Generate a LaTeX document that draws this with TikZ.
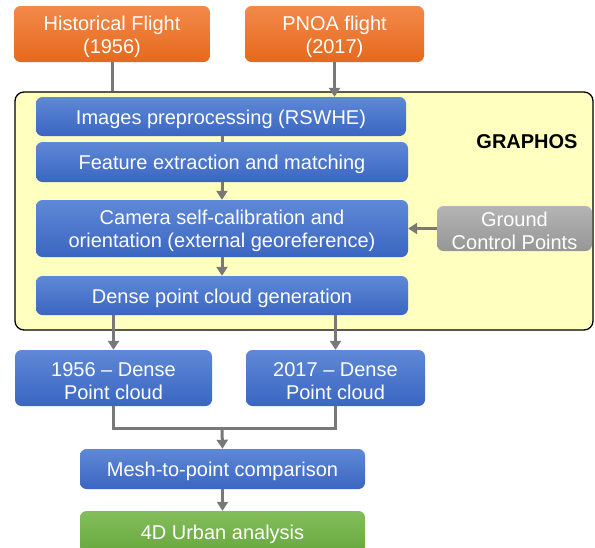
\documentclass[tikz,border=0pt]{standalone}
\usepackage{fontspec}
\setmainfont{Liberation Sans}
\usetikzlibrary{arrows.meta}
\definecolor{orTop}{HTML}{F3894A}
\definecolor{orBot}{HTML}{E5691C}
\definecolor{blTop}{HTML}{5F88D6}
\definecolor{blBot}{HTML}{3A66C2}
\definecolor{grTop}{HTML}{84BE5C}
\definecolor{grBot}{HTML}{67A73D}
\definecolor{gyTop}{HTML}{B4B4B4}
\definecolor{gyBot}{HTML}{969696}
\definecolor{panel}{HTML}{FFFFC0}
\definecolor{link}{HTML}{787878}
\tikzset{
  x=1pt, y=-1pt,
  card/.style={rounded corners=6.5pt, inner sep=0pt, align=center, text=white,
    font=\fontsize{20}{23}\selectfont},
  % zero-width struts lower the text a little inside its box
  oneline/.style={execute at begin node={\rule{0pt}{19.8pt}}},
  twoline/.style={execute at begin node={\rule{0pt}{42.6pt}}},
  orangebox/.style={card, top color=orTop, bottom color=orBot},
  bluebox/.style={card, top color=blTop, bottom color=blBot},
  greenbox/.style={card, top color=grTop, bottom color=grBot},
  graybox/.style={card, top color=gyTop, bottom color=gyBot},
  wire/.style={draw=link, line width=3pt},
  flow/.style={wire, -{Triangle[width=11pt,length=9pt]}},
}
\begin{document}
\begin{tikzpicture}
\useasboundingbox (0,0) rectangle (595,547);

% GRAPHOS processing panel
\node[draw=black, line width=1.3pt, fill=panel, rounded corners=9pt,
      minimum width=578pt, minimum height=238pt, inner sep=0pt]
      (panel) at (304,211) {};
\node[font=\fontsize{20}{24}\selectfont\bfseries] (graphos) at (527,142) {GRAPHOS};

% input flights
\node[orangebox, twoline, minimum width=196pt, minimum height=56pt] (hist) at (112,34)
  {Historical Flight\\(1956)};
\node[orangebox, twoline, minimum width=179pt, minimum height=56pt] (pnoa) at (334.5,34)
  {PNOA flight\\(2017)};

% photogrammetric steps
\node[bluebox, oneline, minimum width=370pt, minimum height=39pt] (prep) at (221,116.5)
  {Images preprocessing (RSWHE)};
\node[bluebox, oneline, minimum width=372pt, minimum height=40pt] (feat) at (222,162)
  {Feature extraction and matching};
\node[bluebox, twoline, minimum width=372pt, minimum height=57pt] (cam) at (222,228.5)
  {Camera self-calibration and\\orientation (external georeference)};
\node[bluebox, oneline, minimum width=372pt, minimum height=39pt] (dense) at (222,295.5)
  {Dense point cloud generation};
\node[graybox, twoline, minimum width=155pt, minimum height=45pt] (gcp) at (514.5,228.5)
  {Ground\\Control Points};

% outputs
\node[bluebox, twoline, minimum width=197pt, minimum height=56pt] (pc56) at (113.5,378)
  {1956 -- Dense\\Point cloud};
\node[bluebox, twoline, minimum width=179pt, minimum height=56pt] (pc17) at (335.5,378)
  {2017 -- Dense\\Point cloud};
\node[bluebox, oneline, minimum width=285pt, minimum height=40pt] (mesh) at (222.5,469)
  {Mesh-to-point comparison};
\node[greenbox, oneline, minimum width=285pt, minimum height=42pt] (urban) at (222.5,532)
  {4D Urban analysis};

\coordinate (join) at (222,428);

% connectors
\draw[wire] (hist.south) -- (hist.south |- panel.north);
\draw[flow] (pnoa.south) -- (pnoa.south |- prep.north);
\draw[wire] (prep.south -| feat.north) -- (feat.north);
\draw[flow] (feat.south) -- (cam.north);
\draw[flow] (cam.south) -- (dense.north);
\draw[flow] (gcp.west) -- (cam.east);
\draw[flow] (pc56.north |- dense.south) -- (pc56.north);
\draw[flow] (pc17.north |- dense.south) -- (pc17.north);
\draw[wire] (pc56.south) |- (join) -| (pc17.south);
\draw[flow] (join) -- (mesh.north);
\draw[flow] (mesh.south) -- (urban.north);
\end{tikzpicture}
\end{document}
